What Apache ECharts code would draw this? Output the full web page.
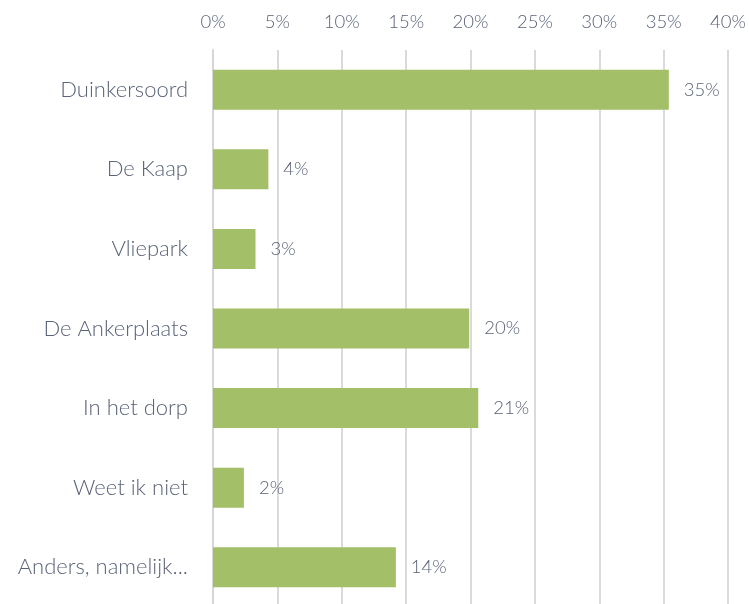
<!DOCTYPE html>
<html>
<head>
<meta charset="utf-8">
<script src="https://cdn.jsdelivr.net/npm/echarts@6/dist/echarts.min.js"></script>
<style>
	html, body { margin: 0; padding: 0; background: #fff; overflow: hidden; }
	/* a little taller than the window so the last band runs off the bottom edge */
	#chart { width: 749px; height: 610px; }
</style>
</head>
<body>
<div id="chart"></div>
<script>
	// categories top to bottom
	var categories = ['Duinkersoord', 'De Kaap', 'Vliepark', 'De Ankerplaats', 'In het dorp', 'Weet ik niet', 'Anders, namelijk...'];
	var values = [35.4, 4.3, 3.3, 19.9, 20.6, 2.4, 14.2];
	var tickLabels = ['0%', '5%', '10%', '15%', '20%', '25%', '30%', '35%', '40%'];

	var textColor = '#5a6377';
	var font = 'Lato';

	var chart = echarts.init(document.getElementById('chart'));

	var option = {
		animation: false,
		grid: { left: 213, right: 20, top: 50, bottom: 3 },
		xAxis: {
			type: 'value',
			position: 'top',
			min: 0,
			max: 40,
			interval: 5,
			axisLine: { show: false },
			axisTick: { show: false },
			splitLine: { lineStyle: { color: '#dadada', width: 2 } },
			axisLabel: {
				margin: 18,
				color: textColor,
				fontFamily: font,
				fontWeight: 300,
				fontSize: 18.5,
				formatter: function (v) { return tickLabels[v / 5]; }
			}
		},
		yAxis: {
			type: 'category',
			inverse: true,
			data: categories,
			axisLine: { lineStyle: { color: '#d6d6d6', width: 2 } },
			axisTick: { length: 7, lineStyle: { color: '#d6d6d6', width: 2 } },
			axisLabel: {
				margin: 25,
				color: textColor,
				fontFamily: font,
				fontWeight: 300,
				fontSize: 22
			}
		},
		series: [
			{
				type: 'bar',
				data: values,
				barWidth: 40,
				itemStyle: { color: '#a3bf67' },
				label: {
					show: true,
					position: 'right',
					distance: 15,
					color: textColor,
					fontFamily: font,
					fontWeight: 300,
					fontSize: 18.5,
					formatter: function (p) { return Math.round(p.value) + '%'; }
				}
			}
		]
	};

	chart.setOption(option);
</script>
</body>
</html>
